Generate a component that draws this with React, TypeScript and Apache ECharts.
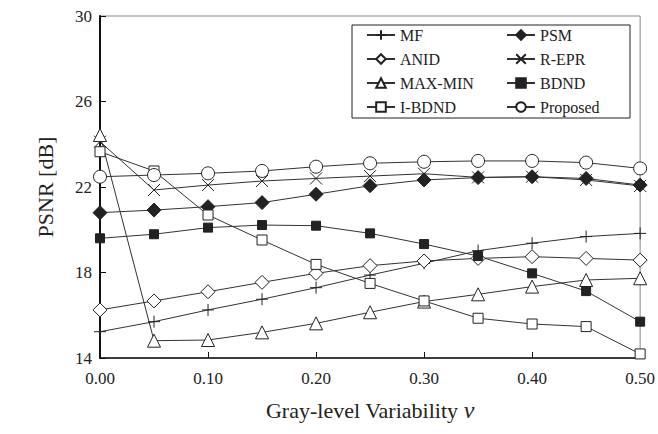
import React, { useEffect, useRef } from "react";
import * as echarts from "echarts";

const xValues = [0, 0.05, 0.1, 0.15, 0.2, 0.25, 0.3, 0.35, 0.4, 0.45, 0.5];
const yTicks = [14, 18, 22, 26, 30];
const xTicks = ["0.00", "0.10", "0.20", "0.30", "0.40", "0.50"];

const mf = [15.23, 15.7, 16.25, 16.75, 17.29, 17.88, 18.43, 19.02, 19.37, 19.68, 19.83];
const psm = [20.8, 20.92, 21.08, 21.27, 21.66, 22.06, 22.33, 22.44, 22.48, 22.4, 22.09];
const anid = [16.25, 16.67, 17.1, 17.54, 17.96, 18.32, 18.54, 18.66, 18.74, 18.66, 18.58];
const repr = [24.12, 21.86, 22.09, 22.28, 22.4, 22.51, 22.62, 22.45, 22.48, 22.33, 22.05];
const maxmin = [24.43, 14.81, 14.84, 15.2, 15.62, 16.14, 16.64, 16.98, 17.34, 17.65, 17.73];
const bdnd = [19.6, 19.79, 20.1, 20.22, 20.19, 19.83, 19.33, 18.77, 17.96, 17.13, 15.7];
const ibdnd = [23.65, 22.75, 20.69, 19.52, 18.38, 17.49, 16.67, 15.86, 15.59, 15.47, 14.19];
const proposed = [22.48, 22.56, 22.64, 22.75, 22.95, 23.11, 23.18, 23.22, 23.22, 23.14, 22.87];

const FONT = "'Liberation Serif', 'Times New Roman', Times, serif";
const PLUS = "path://M5,0L5,10M0,5L10,5";
const CROSS = "path://M0,0L10,10M10,0L0,10";

type S = { name: string; data: number[]; symbol: string; size: number; fill: string };
const seriesDefs: S[] = [
  { name: "MF", data: mf, symbol: PLUS, size: 12, fill: "none" },
  { name: "PSM", data: psm, symbol: "diamond", size: 14, fill: "#222" },
  { name: "ANID", data: anid, symbol: "diamond", size: 14, fill: "#fff" },
  { name: "R-EPR", data: repr, symbol: CROSS, size: 12, fill: "none" },
  { name: "MAX-MIN", data: maxmin, symbol: "triangle", size: 13, fill: "#fff" },
  { name: "BDND", data: bdnd, symbol: "rect", size: 9, fill: "#222" },
  { name: "I-BDND", data: ibdnd, symbol: "rect", size: 10, fill: "#fff" },
  { name: "Proposed", data: proposed, symbol: "circle", size: 13, fill: "#fff" },
];

export default function App() {
  const ref = useRef<HTMLDivElement>(null);
  useEffect(() => {
    if (!ref.current) return;
    const chart = echarts.init(ref.current, undefined, { renderer: "svg" });
    const legendCommon = {
      orient: "vertical" as const,
      itemWidth: 28,
      itemHeight: 12,
      itemGap: 8,
      padding: 0,
      textStyle: { fontFamily: FONT, fontSize: 16, color: "#222" },
    };
    chart.setOption({
      animation: false,
      backgroundColor: "#fff",
      grid: {
        left: 100,
        top: 16,
        right: 17,
        bottom: 76,
        show: true,
        borderColor: "#888",
        borderWidth: 1,
      },
      legend: [
        { ...legendCommon, left: 366, top: 27, data: ["MF", "ANID", "MAX-MIN", "I-BDND"] },
        { ...legendCommon, left: 506, top: 27, data: ["PSM", "R-EPR", "BDND", "Proposed"] },
      ],
      graphic: [
        {
          type: "rect",
          shape: { x: 352, y: 25, width: 278, height: 93 },
          style: { fill: "none", stroke: "#222", lineWidth: 1 },
          z: 10,
        },
      ],
      xAxis: {
        type: "value",
        min: 0,
        max: 0.5,
        interval: 0.1,
        name: "Gray-level Variability {i|\u03bd}",
        nameLocation: "middle",
        nameGap: 40,
        nameTextStyle: {
          fontFamily: FONT,
          fontSize: 22,
          color: "#222",
          rich: { i: { fontFamily: FONT, fontSize: 24, fontStyle: "italic", color: "#222" } },
        },
        axisLine: { lineStyle: { color: "#111", width: 1.5 } },
        axisTick: { inside: true, length: 6, lineStyle: { color: "#111" } },
        axisLabel: {
          fontFamily: FONT,
          fontSize: 17,
          color: "#222",
          margin: 12,
          formatter: (v: number) => xTicks[Math.round(v * 10)] ?? "",
        },
        splitLine: { show: false },
      },
      yAxis: {
        type: "value",
        min: yTicks[0],
        max: yTicks[yTicks.length - 1],
        interval: 4,
        name: "PSNR [dB]",
        nameLocation: "middle",
        nameGap: 44,
        nameTextStyle: { fontFamily: FONT, fontSize: 22, color: "#222" },
        axisLine: { show: true, lineStyle: { color: "#111", width: 2 } },
        axisTick: { show: true, inside: true, length: 6, lineStyle: { color: "#111" } },
        axisLabel: { fontFamily: FONT, fontSize: 17, color: "#222", margin: 8 },
        splitLine: { show: false },
      },
      series: seriesDefs.map((s) => ({
        name: s.name,
        type: "line",
        data: s.data.map((v, i) => [xValues[i], v]),
        symbol: s.symbol,
        symbolSize: s.size,
        showAllSymbol: true,
        lineStyle: { color: "#333", width: 1 },
        itemStyle: { color: s.fill, borderColor: "#222", borderWidth: 1 },
        emphasis: { disabled: true },
        clip: false,
      })),
    });
    return () => chart.dispose();
  }, []);
  return (
    <div
      ref={ref}
      style={{ position: "absolute", left: 0, top: 0, width: 658, height: 434 }}
    />
  );
}
